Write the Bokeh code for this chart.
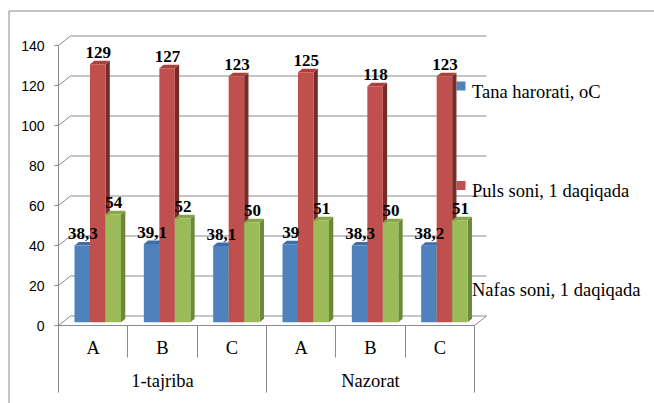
from bokeh.plotting import figure
from bokeh.models import Range1d, LinearAxis, FixedTicker
from bokeh.core.properties import value
from bokeh.embed import file_html
from bokeh.resources import INLINE

# ---------------- data ----------------
groups = ["1-tajriba", "Nazorat"]
subcats = ["A", "B", "C", "A", "B", "C"]
series_names = ["Tana harorati, oC", "Puls soni, 1 daqiqada", "Nafas soni, 1 daqiqada"]
tana = [38.3, 39.1, 38.1, 39, 38.3, 38.2]
puls = [129, 127, 123, 125, 118, 123]
nafas = [54, 52, 50, 51, 50, 51]
y_ticks = [0, 20, 40, 60, 80, 100, 120, 140]

# ---------------- layout / style ----------------
W, H = 654, 403
X0 = 58.0            # px of the front value axis
CW = (474.0 - 58.0) / 6   # px per category
Y0 = 325.0           # px of value 0 (front)
PU = 2.0             # px per unit

def dx(px):
    return (px - X0) / CW

def dy(py):
    return (Y0 - py) / PU

DXC = 12.0 / CW      # depth offset of walls (x, data units)
DYV = 9.5 / PU       # depth offset of walls (y, data units)
BDX = 4.3 / CW       # bar depth x
BDY = 3.5 / PU       # bar depth y
B0 = 3.3 / PU        # bar base lift
BW = 15.5 / CW       # bar width
BOFF = 16.0 / CW     # first bar offset in category

front_cols = ["#4F81BD", "#C0504D", "#9BBB59"]
top_cols = ["#3F6DA6", "#A8423F", "#86A64A"]
side_cols = ["#365E8E", "#772C2A", "#6A8A38"]
grid_col = "#8A8A8A"
serif = "Liberation Serif"

p = figure(width=W, height=H,
           x_range=Range1d(dx(0), dx(W)), y_range=Range1d(dy(H), dy(0)),
           x_axis_type=None, y_axis_type=None,
           toolbar_location=None, output_backend="svg",
           min_border=0, outline_line_color=None)
p.background_fill_color = "white"
p.border_fill_color = "white"

# outer chart border
p.quad(left=[dx(8.5)], right=[dx(900)], top=[dy(10.5)], bottom=[dy(600)],
       fill_color=None, line_color="#8A8A8A", line_width=1)

# walls / gridlines
ncat = len(subcats)
p.multi_line(xs=[[0, DXC, ncat + DXC] for v in y_ticks],
             ys=[[v, v + DYV, v + DYV] for v in y_ticks],
             line_color=grid_col, line_width=1)
p.line(x=[ncat, ncat + DXC], y=[0, DYV], line_color=grid_col, line_width=1)

# legend markers (drawn before bars, as in the original)
leg_y = [dy(85.5), dy(185), dy(284)]
leg_base = [dy(91), dy(190), dy(289.5)]
p.rect(x=[dx(460.5)] * 3, y=leg_y, width=9, height=9,
       width_units="screen", height_units="screen",
       fill_color=front_cols, line_color=None)
p.text(x=[dx(471.5)] * 3, y=leg_base, text=series_names,
       text_font=value(serif), text_font_size="18.5px",
       text_baseline="alphabetic", text_align="left", text_color="black")

# 3D bars
all_series = [tana, puls, nafas]
label_x, label_y, label_t = [], [], []
for s, vals in enumerate(all_series):
    lefts = [i + BOFF + s * BW for i in range(ncat)]
    rights = [l + BW for l in lefts]
    tops = [B0 + v for v in vals]
    # side faces
    p.patches(xs=[[r, r + BDX, r + BDX, r] for r in rights],
              ys=[[B0, B0 + BDY, t + BDY, t] for t in tops],
              fill_color=side_cols[s], line_color=None)
    # top faces
    p.patches(xs=[[l, r, r + BDX, l + BDX] for l, r in zip(lefts, rights)],
              ys=[[t, t, t + BDY, t + BDY] for t in tops],
              fill_color=top_cols[s], line_color=None)
    # front faces
    p.quad(left=lefts, right=rights, bottom=[B0] * ncat, top=tops,
           fill_color=front_cols[s], line_color=None)
    for l, r, t, v in zip(lefts, rights, tops, vals):
        label_x.append((l + r) / 2 + 0.5 / CW)
        label_y.append(t)
        label_t.append(f"{v:g}".replace(".", ","))

p.text(x=label_x, y=label_y, text=label_t, y_offset=-12,
       text_font=value(serif), text_font_style="bold", text_font_size="17px",
       text_align="center", text_baseline="alphabetic", text_color="black")

# value axis
yax = LinearAxis(fixed_location=0, bounds=(0, 140),
                 ticker=FixedTicker(ticks=y_ticks, minor_ticks=[]))
yax.axis_line_color = grid_col
yax.major_tick_line_color = grid_col
yax.major_tick_out = 4
yax.major_tick_in = 0
yax.minor_tick_out = 0
yax.minor_tick_in = 0
yax.major_label_standoff = 10
yax.major_label_text_font = "Liberation Sans"
yax.major_label_text_font_size = "14px"
yax.major_label_text_color = "black"
p.add_layout(yax, "left")

per = ncat // len(groups)

def sep_axis(bounds_ticks, length, show_line):
    ax = LinearAxis(fixed_location=0, bounds=(0, ncat),
                    ticker=FixedTicker(ticks=[], minor_ticks=bounds_ticks))
    ax.axis_line_color = grid_col if show_line else None
    ax.major_tick_line_color = None
    ax.major_tick_out = 0
    ax.major_tick_in = 0
    ax.minor_tick_line_color = grid_col
    ax.minor_tick_out = length
    ax.minor_tick_in = 0
    return ax

def label_axis(ticks, labels, standoff):
    ax = LinearAxis(fixed_location=0, bounds=(0, ncat),
                    ticker=FixedTicker(ticks=ticks, minor_ticks=[]),
                    major_label_overrides=dict(zip(ticks, labels)))
    ax.axis_line_color = None
    ax.major_tick_line_color = None
    ax.minor_tick_line_color = None
    ax.major_tick_out = 0
    ax.major_tick_in = 0
    ax.minor_tick_out = 0
    ax.minor_tick_in = 0
    ax.major_label_standoff = standoff
    ax.major_label_text_font = serif
    ax.major_label_text_font_size = "18.5px"
    ax.major_label_text_color = "black"
    return ax

# category axis (two levels)
p.add_layout(sep_axis(list(range(ncat + 1)), 32, True), "below")
p.add_layout(sep_axis([g * per for g in range(len(groups) + 1)], 67, False), "below")
p.add_layout(label_axis([i + 0.5 for i in range(ncat)], subcats, 12), "below")
p.add_layout(label_axis([g * per + per / 2 for g in range(len(groups))], groups, 45), "below")

open("out.html", "w").write(file_html(p, INLINE))
